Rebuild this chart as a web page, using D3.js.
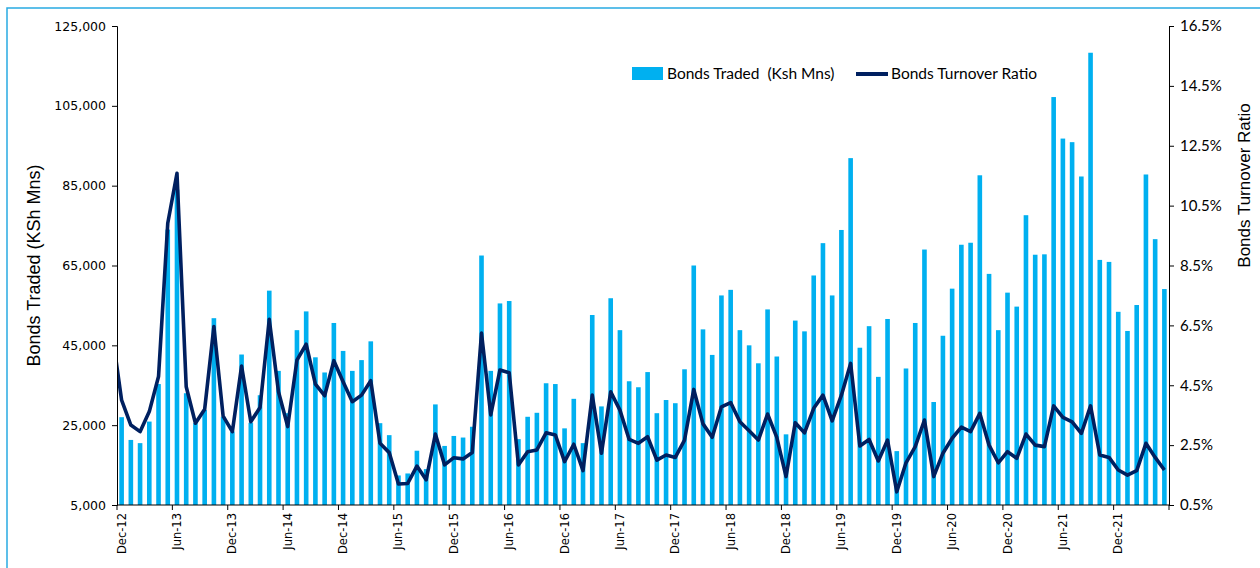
<!DOCTYPE html>
<html>
<head>
<meta charset="utf-8">
<script src="https://cdn.jsdelivr.net/npm/d3@7"></script>
<style>
  body { margin: 0; background: #fff; }
  svg { display: block; }
  .axis path, .axis line { stroke: #000; }
  .tick-left text { font-family: "DejaVu Sans", sans-serif; font-size: 12.5px; fill: #000; }
  .tick-right text { font-family: Lato, "Liberation Sans", sans-serif; font-size: 15px; fill: #000; }
  .tick-bottom text { font-family: "DejaVu Sans", sans-serif; font-size: 11.5px; fill: #000; }
</style>
</head>
<body>
<svg id="chart" width="1260" height="568"></svg>
<script>
// months Dec-12 .. May-22
const months = d3.timeMonths(new Date(2012, 11, 1), new Date(2022, 5, 1)).map(d3.timeFormat("%b-%y"));

// Bonds traded, KSh Mns
const bondsTraded = [
  27000, 21300, 20500, 25900, 35300, 74000, 84000, 33000, 25500, 28800, 51800, 27100,
  23400, 42700, 25600, 32500, 58700, 38600, 28000, 48800, 53500, 42000, 38200, 50600,
  43600, 38600, 41300, 46000, 25500, 22500, 12400, 12900, 18600, 14000, 30200, 19800,
  22300, 21900, 24600, 67500, 38600, 55500, 56100, 21500, 27100, 28100, 35500, 35300,
  24200, 31600, 20500, 52600, 29700, 56800, 48800, 36000, 34500, 38300, 28000, 31300,
  30500, 39000, 65000, 49000, 42600, 57500, 58900, 48800, 45000, 40500, 54000, 42200,
  22700, 51200, 48500, 62500, 70600, 57500, 73900, 91900, 44400, 49800, 37100, 51600,
  18500, 39200, 50600, 69000, 30800, 47400, 59200, 70200, 70700, 87600, 62900, 48800,
  58200, 54700, 77600, 67700, 67800, 107200, 96800, 95900, 87300, 118300, 66400, 65900,
  53400, 48600, 55100, 87800, 71600, 59100
];

// Bonds turnover ratio, %
const turnoverRatio = [
  4.0, 3.17, 2.95, 3.62, 4.79, 9.91, 11.58, 4.45, 3.23, 3.7, 6.46, 3.47,
  2.95, 5.14, 3.28, 3.76, 6.7, 4.28, 3.12, 5.34, 5.87, 4.54, 4.15, 5.32,
  4.62, 3.95, 4.17, 4.65, 2.56, 2.25, 1.2, 1.22, 1.8, 1.34, 2.87, 1.84,
  2.08, 2.04, 2.25, 6.24, 3.51, 5.01, 4.92, 1.84, 2.28, 2.34, 2.91, 2.84,
  1.95, 2.53, 1.65, 4.17, 2.23, 4.28, 3.67, 2.69, 2.56, 2.78, 2.0, 2.17,
  2.09, 2.67, 4.36, 3.21, 2.76, 3.78, 3.92, 3.28, 2.98, 2.67, 3.54, 2.76,
  1.45, 3.25, 2.91, 3.73, 4.17, 3.31, 4.17, 5.23, 2.47, 2.69, 1.97, 2.67,
  0.94, 1.91, 2.45, 3.34, 1.45, 2.23, 2.73, 3.1, 2.95, 3.56, 2.5, 1.91,
  2.28, 2.06, 2.87, 2.5, 2.45, 3.81, 3.43, 3.28, 2.89, 3.81, 2.17, 2.09,
  1.67, 1.5, 1.65, 2.56, 2.09, 1.67
];
// value for the month before Dec-12, only its clipped stub shows
const turnoverPrev = 6.2;

const leftTicks = [5000, 25000, 45000, 65000, 85000, 105000, 125000];
const rightTicks = [0.5, 2.5, 4.5, 6.5, 8.5, 10.5, 12.5, 14.5, 16.5];

const margin = { left: 117, right: 1169, top: 26, bottom: 505 };
const barColor = "#00B0F0";
const lineColor = "#002060";

const svg = d3.select("#chart");

// light blue frame
svg.append("rect")
  .attr("x", 7).attr("y", 8)
  .attr("width", 1270).attr("height", 580)
  .attr("fill", "none")
  .attr("stroke", "#29abe2")
  .attr("stroke-width", 1.5);

const x = d3.scaleBand()
  .domain(months)
  .range([margin.left, margin.right])
  .paddingInner(0.5)
  .paddingOuter(0.25);

const yL = d3.scaleLinear().domain([5000, 125000]).range([margin.bottom, margin.top]);
const yR = d3.scaleLinear().domain([0.5, 16.5]).range([margin.bottom, margin.top]);

svg.append("defs").append("clipPath").attr("id", "plot-clip")
  .append("rect")
  .attr("x", margin.left).attr("y", margin.top)
  .attr("width", margin.right - margin.left)
  .attr("height", margin.bottom - margin.top);

// bars
svg.append("g")
  .selectAll("rect")
  .data(bondsTraded)
  .join("rect")
  .attr("x", (d, i) => x(months[i]))
  .attr("y", d => yL(d))
  .attr("width", x.bandwidth())
  .attr("height", d => yL(5000) - yL(d))
  .attr("fill", barColor);

// turnover line
const cx = i => x(months[0]) + x.bandwidth() / 2 + i * x.step();
const linePts = [[cx(-1), yR(turnoverPrev)]].concat(turnoverRatio.map((v, i) => [cx(i), yR(v)]));

svg.append("path")
  .datum(linePts)
  .attr("clip-path", "url(#plot-clip)")
  .attr("fill", "none")
  .attr("stroke", lineColor)
  .attr("stroke-width", 3.6)
  .attr("stroke-linejoin", "round")
  .attr("d", d3.line());

// left axis
svg.append("g")
  .attr("class", "axis tick-left")
  .attr("transform", `translate(${margin.left},0)`)
  .call(d3.axisLeft(yL).tickValues(leftTicks).tickFormat(d3.format(",")).tickSizeOuter(0).tickSize(5).tickPadding(6));

// right axis
svg.append("g")
  .attr("class", "axis tick-right")
  .attr("transform", `translate(${margin.right},0)`)
  .call(d3.axisRight(yR).tickValues(rightTicks).tickFormat(d => d.toFixed(1) + "%").tickSizeOuter(0).tickSize(5).tickPadding(6));

// bottom axis: labels centred on the month, tick marks on the boundaries
const labelMonths = months.filter((m, i) => i % 6 === 0);
const xAxisG = svg.append("g")
  .attr("class", "axis tick-bottom")
  .attr("transform", `translate(0,${margin.bottom})`)
  .call(d3.axisBottom(x).tickValues(labelMonths).tickSize(0).tickSizeOuter(0));

xAxisG.select(".domain").attr("d", `M${margin.left},0H${margin.right}`);
xAxisG.selectAll(".tick text")
  .attr("transform", "rotate(-90)")
  .attr("text-anchor", "end")
  .attr("x", -8)
  .attr("y", 0)
  .attr("dy", "0.35em");

xAxisG.selectAll(".bound")
  .data(labelMonths.concat([null]))
  .join("line")
  .attr("class", "bound")
  .attr("x1", m => m === null ? margin.right : cx(months.indexOf(m)) - x.step() / 2)
  .attr("x2", m => m === null ? margin.right : cx(months.indexOf(m)) - x.step() / 2)
  .attr("y1", 0).attr("y2", 5)
  .attr("stroke", "#000");

// axis titles
svg.append("text")
  .attr("transform", `translate(40,${(margin.top + margin.bottom) / 2}) rotate(-90)`)
  .attr("text-anchor", "middle")
  .style("font-family", "Liberation Sans, Arial, sans-serif")
  .style("font-size", "18px")
  .text("Bonds Traded (KSh Mns)");

svg.append("text")
  .attr("transform", `translate(1250,${(margin.top + margin.bottom) / 2 - 80}) rotate(-90)`)
  .attr("text-anchor", "middle")
  .style("font-family", "Liberation Sans, Arial, sans-serif")
  .style("font-size", "17px")
  .text("Bonds Turnover Ratio");

// legend
const legend = svg.append("g")
  .style("font-family", "Lato, Liberation Sans, sans-serif")
  .style("font-size", "15.5px");

legend.append("rect")
  .attr("x", 632).attr("y", 67).attr("width", 31).attr("height", 13)
  .attr("fill", barColor);
legend.append("text")
  .attr("x", 667).attr("y", 74).attr("dy", "0.35em")
  .attr("xml:space", "preserve")
  .text("Bonds Traded  (Ksh Mns)");

legend.append("line")
  .attr("x1", 856).attr("x2", 888).attr("y1", 74).attr("y2", 74)
  .attr("stroke", lineColor).attr("stroke-width", 4);
legend.append("text")
  .attr("x", 891).attr("y", 74).attr("dy", "0.35em")
  .text("Bonds Turnover Ratio");
</script>
</body>
</html>
